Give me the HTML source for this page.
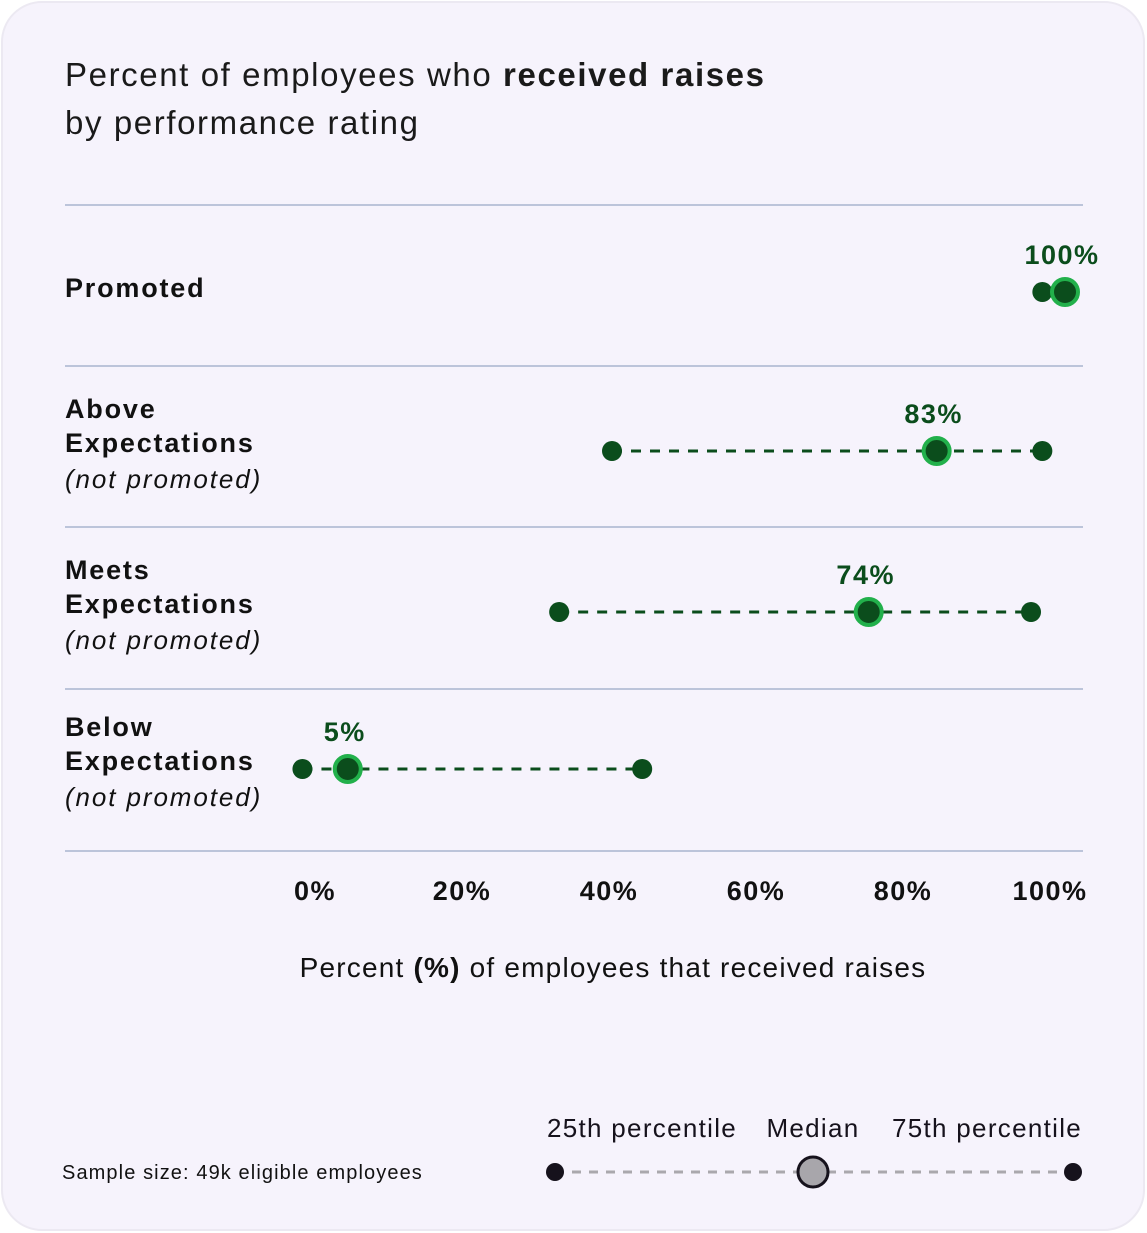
<!DOCTYPE html>
<html><head><meta charset="utf-8"><style>
body{margin:0;background:#fff;}
svg{display:block;font-family:"Liberation Sans",sans-serif;}
</style></head><body>
<svg width="1147" height="1233" viewBox="0 0 1147 1233">
<rect x="2" y="2" width="1142" height="1228" rx="40" fill="#f6f3fc" stroke="#ece9f2" stroke-width="2"/>
<text x="65" y="86" font-size="33" letter-spacing="1.6" fill="#1a1a1a">Percent of employees who <tspan font-weight="bold">received raises</tspan></text>
<text x="65" y="134" font-size="33" letter-spacing="1.6" fill="#1a1a1a">by performance rating</text>
<g id="rows"></g>
<g id="ticks"></g>
<text x="613" y="977" font-size="28" letter-spacing="1.2" text-anchor="middle" fill="#111">Percent <tspan font-weight="bold">(%)</tspan> of employees that received raises</text>
<text x="62" y="1179" font-size="20" letter-spacing="1.1" fill="#111">Sample size: 49k eligible employees</text>
<g>
<line x1="555" y1="1172" x2="1073" y2="1172" stroke="#aaa8ad" stroke-width="3" stroke-dasharray="9 8"/>
<circle cx="555" cy="1172" r="9" fill="#16121c"/>
<circle cx="813" cy="1172" r="15" fill="#a8a6ab" stroke="#16121c" stroke-width="3"/>
<circle cx="1073" cy="1172" r="9" fill="#16121c"/>
<text x="642" y="1137" font-size="26" letter-spacing="1.3" text-anchor="middle" fill="#16121c">25th percentile</text>
<text x="813" y="1137" font-size="26" letter-spacing="1.3" text-anchor="middle" fill="#16121c">Median</text>
<text x="987" y="1137" font-size="26" letter-spacing="1.3" text-anchor="middle" fill="#16121c">75th percentile</text>
</g>
</svg>
<script>
const categories=["Promoted","Above Expectations","Meets Expectations","Below Expectations"];
const p25=[97,40,33,-1];
const median=[100,83,74,5];
const p75=[100,97,95.5,44];
const medianLabels=["100%","83%","74%","5%"];
const tickValues=[0,20,40,60,80,100];
const tickLabels=["0%","20%","40%","60%","80%","100%"];
const NS="http://www.w3.org/2000/svg";
function x(v){return 310+7.55*v;}
function tickX(v){return 315+7.35*v;}
const rowY=[292,451,612,769];
function mk(tag,attrs,parent,txt){const e=document.createElementNS(NS,tag);for(const k in attrs)e.setAttribute(k,attrs[k]);if(txt!==undefined)e.textContent=txt;parent.appendChild(e);return e;}
const rows=document.getElementById('rows');
[205,366,527,689,851].forEach(function(y){
 const l=mk('line',{x1:65,x2:1083,y1:y,y2:y,stroke:'#a9b4cf','stroke-width':1.5},rows);
 
 
});
const G='#0b4d1c',B='#22b04b';
categories.forEach(function(c,i){
 const y=rowY[i];
 const g=mk('g',{},rows);
 
 
 if(i===0){
  const t=mk('text',{x:65,y:297,'font-size':27,'font-weight':'bold','letter-spacing':1.8,fill:'#111'},g,'Promoted');
  
  
 }else{
  const parts=c.split(' ');
  const t1=mk('text',{x:65,y:y-33,'font-size':27,'font-weight':'bold','letter-spacing':1.8,fill:'#111'},g,parts[0]);
  
  
  const t2=mk('text',{x:65,y:y+1,'font-size':27,'font-weight':'bold','letter-spacing':1.8,fill:'#111'},g,parts[1]);
  
  
  const t3=mk('text',{x:65,y:y+37,'font-size':26,'font-style':'italic','letter-spacing':1.9,fill:'#111'},g,'(not promoted)');
  
  
 }
 const ln=mk('line',{x1:x(p25[i]),x2:x(p75[i]),y1:y,y2:y,stroke:G,'stroke-width':3,'stroke-dasharray':'10 9'},g);
 
 
 const a=mk('circle',{cx:x(p25[i]),cy:y,r:10,fill:G},g);
 
 
 const b=mk('circle',{cx:x(p75[i]),cy:y,r:10,fill:G},g);
 
 
 const m=mk('circle',{cx:x(median[i]),cy:y,r:13,fill:G,stroke:B,'stroke-width':4},g);
 
 
 const ml=mk('text',{x:x(median[i])-3,y:y-28,'font-size':27,'font-weight':'bold','letter-spacing':1.5,fill:G,'text-anchor':'middle'},g,medianLabels[i]);
 
 
});
const ticks=document.getElementById('ticks');
tickValues.forEach(function(v,i){
 const t=mk('text',{x:tickX(v),y:900,'font-size':27,'font-weight':'bold','letter-spacing':1.5,fill:'#111','text-anchor':'middle'},ticks,tickLabels[i]);
 
 
});
</script>
</body></html>
